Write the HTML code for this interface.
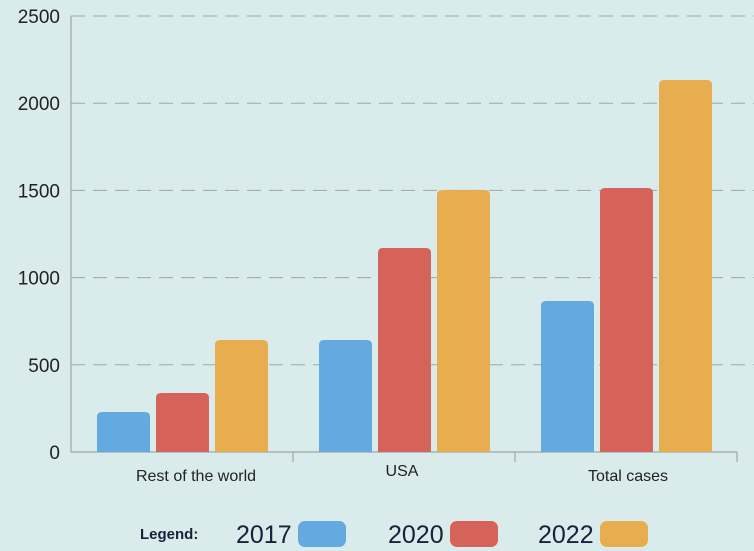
<!DOCTYPE html>
<html><head><meta charset="utf-8"><style>
body{margin:0;background:#d9ebea;}
svg{display:block;font-family:"Liberation Sans",sans-serif;}
</style></head><body>
<svg id="c" width="754" height="551">
<rect width="754" height="551" fill="#d9ebea"/>
</svg>
<script>
const categories=["Rest of the world","USA","Total cases"];
const years=["2017","2020","2022"];
const v2017=[229,642,866];
const v2020=[338,1170,1514];
const v2022=[642,1502,2133];
const yTicks=[0,500,1000,1500,2000,2500];
const colors=["#64a9e0","#d66359","#e8ad4f"];
const NS="http://www.w3.org/2000/svg";
const svg=document.getElementById('c');
const y0=452,yTop=16,yMax=2500,x0=71,x1=737;
const y=v=>y0-(v/yMax)*(y0-yTop);
const gw=(x1-x0)/categories.length;
function mk(t,a,p){const e=document.createElementNS(NS,t);for(const k in a)e.setAttribute(k,a[k]);(p||svg).appendChild(e);return e;}
yTicks.forEach((t,i)=>{
 if(t>0){const g=mk('line',{x1:x0,x2:754,y1:y(t),y2:y(t),stroke:'#9aa9a8','stroke-dasharray':'14 8','stroke-width':1});
 
 }
 const l=mk('text',{x:60,y:y(t)+7,'text-anchor':'end','font-size':19,fill:'#222'});l.textContent=t;
 
 
});
const ax=mk('path',{d:`M${x0} ${yTop}V${y0}H${x1}`,fill:'none',stroke:'#9aa9a8','stroke-width':1.2});


const series=[v2017,v2020,v2022];
const bw=53,off=[26,85,144];
const labDx=[14,-2,2],labY=[481,476,481];
categories.forEach((c,i)=>{
 const gx=x0+i*gw;
 const tk=mk('line',{x1:gx+gw,x2:gx+gw,y1:y0,y2:y0+10,stroke:'#9aa9a8','stroke-width':1.2});
 
 
 series.forEach((s,j)=>{
  const top=y(s[i]),h=y0-top,x=gx+off[j],r=5;
  const b=mk('path',{d:`M${x} ${y0}V${top+r}Q${x} ${top} ${x+r} ${top}H${x+bw-r}Q${x+bw} ${top} ${x+bw} ${top+r}V${y0}Z`,fill:colors[j]});
  
  
 });
 const t=mk('text',{x:gx+gw/2+labDx[i],y:labY[i],'text-anchor':'middle','font-size':16,fill:'#222'});t.textContent=c;
 
 
});
const lg=mk('text',{x:140,y:539,'font-size':15,'font-weight':'bold',fill:'#1a1f3a'});lg.textContent='Legend:';


const lx=[236,388,538];
years.forEach((yr,j)=>{
 const t=mk('text',{x:lx[j],y:543,'font-size':25,fill:'#1a1f3a'});t.textContent=yr;
 
 
 const r=mk('rect',{x:lx[j]+62,y:521,width:48,height:26,rx:7,fill:colors[j]});
 
 
});
</script>
</body></html>
